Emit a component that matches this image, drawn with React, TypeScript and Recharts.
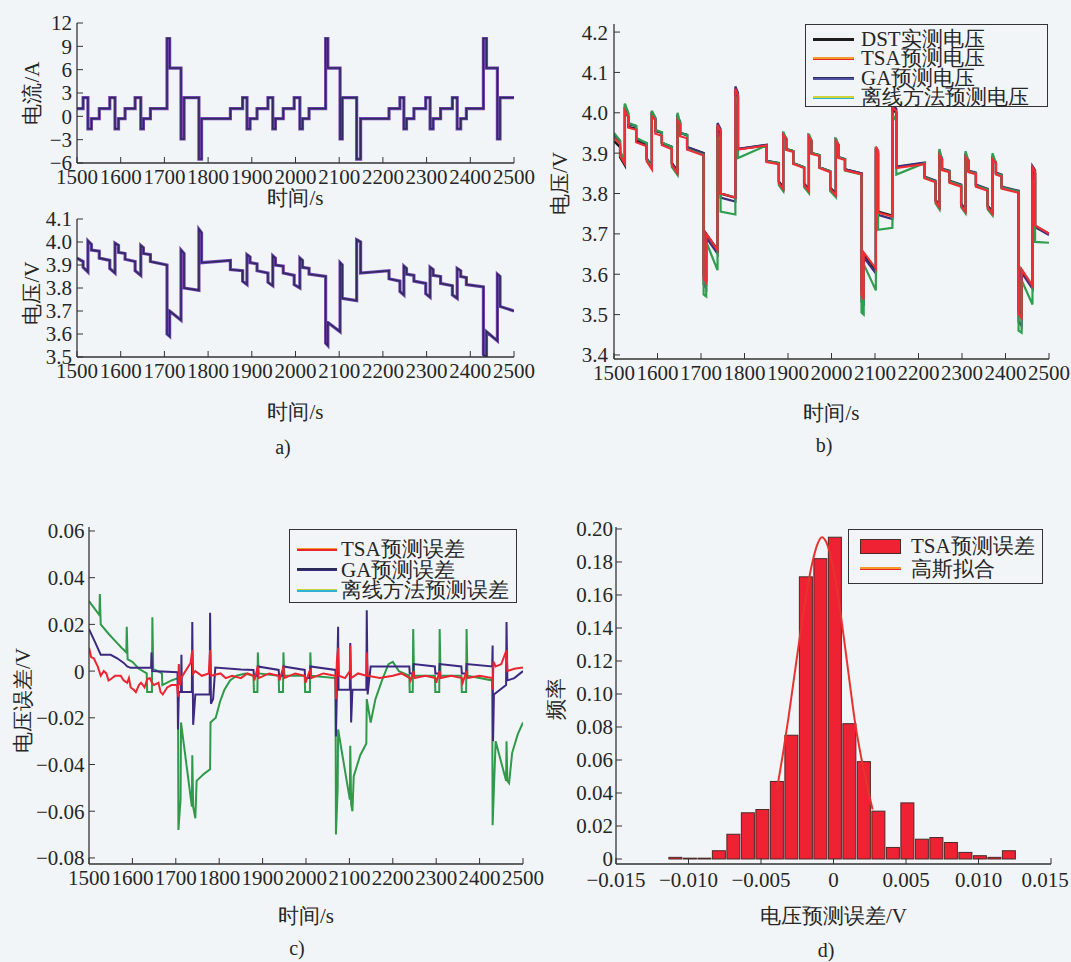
import React from 'react';
import { LineChart, ComposedChart, Line, Bar, XAxis, YAxis } from 'recharts';

const FONT = "'Liberation Serif', 'Times New Roman', serif";
const INK = '#262626';
const PAPER = '#f1f5f8';

// shared time ticks for a), b), c)
const timeTicks = [1500, 1600, 1700, 1800, 1900, 2000, 2100, 2200, 2300, 2400, 2500];

// a) DST current profile: step start times (last = end of record) and current levels
const curT = [1500, 1514, 1525, 1533, 1551, 1575, 1587, 1595, 1610, 1633, 1646, 1652, 1668, 1706, 1712, 1738,
  1745, 1779, 1785, 1851, 1879, 1889, 1896, 1912, 1937, 1948, 1954, 1972, 1997, 2010, 2016, 2031,
  2069, 2074, 2102, 2107, 2140, 2149, 2214, 2239, 2248, 2254, 2271, 2298, 2308, 2315, 2332, 2359,
  2370, 2378, 2391, 2430, 2437, 2462, 2468, 2500];
const curI = [1.0, 2.4, -1.6, -0.3, 1.0, 2.4, -1.6, -0.3, 1.0, 2.4, -1.6, -0.3, 1.0, 10.0, 6.2, -2.9,
  2.4, -5.5, -0.3, 1.0, 2.4, -1.6, -0.3, 1.0, 2.4, -1.6, -0.3, 1.0, 2.4, -1.6, -0.3, 1.0,
  10.0, 6.2, -2.9, 2.4, -5.5, -0.3, 1.0, 2.4, -1.6, -0.3, 1.0, 2.4, -1.6, -0.3, 1.0, 2.4,
  -1.6, -0.3, 1.0, 10.0, 6.2, -2.9, 2.4, 2.4];

// measured voltage at start / end of each current step
const measV0 = [3.930, 3.890, 4.005, 3.965, 3.930, 3.885, 3.995, 3.955, 3.925, 3.875, 3.985, 3.950,
  3.915, 3.600, 3.700, 3.965, 3.800, 4.055, 3.910, 3.880, 3.830, 3.945, 3.910, 3.875,
  3.825, 3.940, 3.900, 3.865, 3.815, 3.930, 3.890, 3.860, 3.560, 3.650, 3.910, 3.755,
  4.010, 3.865, 3.840, 3.785, 3.895, 3.860, 3.830, 3.775, 3.890, 3.855, 3.820, 3.770,
  3.885, 3.850, 3.815, 3.510, 3.610, 3.860, 3.720];
const measV1 = [3.915, 3.870, 3.990, 3.960, 3.920, 3.865, 3.985, 3.950, 3.915, 3.855, 3.975, 3.945,
  3.900, 3.590, 3.660, 3.950, 3.790, 4.040, 3.920, 3.875, 3.815, 3.935, 3.905, 3.865,
  3.810, 3.930, 3.895, 3.855, 3.800, 3.920, 3.885, 3.850, 3.550, 3.610, 3.900, 3.745,
  4.000, 3.875, 3.830, 3.770, 3.885, 3.855, 3.820, 3.760, 3.880, 3.850, 3.810, 3.755,
  3.875, 3.845, 3.805, 3.500, 3.570, 3.850, 3.700];

// b) deviation of each prediction from the measured voltage, per step
const tsaDev = [0.008, 0.004, 0.000, -0.002, -0.003, -0.005, -0.003, -0.007, -0.005, -0.004, -0.004, -0.008,
  -0.006, -0.010, 0.000, 0.005, 0.000, 0.004, -0.001, -0.002, -0.004, 0.000, -0.002, -0.002,
  -0.004, 0.000, -0.002, -0.002, -0.004, 0.000, -0.002, -0.002, -0.012, 0.004, 0.006, -0.002,
  0.004, -0.002, -0.002, -0.004, 0.000, -0.002, -0.003, -0.005, 0.000, -0.002, -0.003, -0.005,
  0.000, -0.003, -0.003, -0.008, 0.002, 0.005, 0.001];
const gaDev = [0.015, 0.010, 0.007, 0.007, 0.005, 0.003, 0.002, 0.001, 0.001, 0.001, 0.004, 0.000,
  0.000, -0.025, -0.009, 0.010, -0.010, 0.010, 0.001, 0.001, -0.002, 0.002, 0.000, 0.000,
  -0.002, 0.002, 0.000, 0.000, -0.003, 0.002, 0.000, 0.000, -0.028, -0.008, 0.005, -0.008,
  0.010, 0.002, 0.002, -0.001, 0.003, 0.002, 0.002, -0.001, 0.003, 0.002, 0.002, -0.001,
  0.003, 0.002, 0.002, -0.028, -0.006, 0.008, -0.003];
const offDev0 = [0.020, 0.015, 0.018, 0.010, 0.008, 0.000, 0.010, 0.003, 0.002, -0.009, 0.015, 0.000,
  -0.005, -0.050, -0.020, -0.030, -0.045, -0.015, -0.022, 0.000, -0.009, 0.008, 0.000, 0.000,
  -0.009, 0.008, 0.000, 0.000, -0.009, 0.008, 0.000, -0.003, -0.055, -0.025, -0.030, -0.045,
  -0.015, -0.018, 0.000, -0.009, 0.015, 0.000, 0.000, -0.009, 0.015, 0.000, 0.000, -0.009,
  0.015, 0.000, 0.000, -0.050, -0.025, -0.030, -0.040];
const offDev1 = [0.016, 0.012, 0.010, 0.008, 0.005, -0.002, 0.004, 0.002, 0.000, -0.009, 0.000, 0.000,
  -0.004, -0.045, -0.050, -0.010, -0.042, -0.020, -0.001, 0.000, -0.009, 0.000, 0.000, 0.000,
  -0.009, 0.000, 0.000, 0.000, -0.009, 0.000, 0.000, -0.003, -0.050, -0.050, -0.020, -0.030,
  -0.020, 0.000, 0.000, -0.009, 0.000, 0.000, 0.000, -0.009, 0.000, 0.000, 0.000, -0.009,
  0.000, 0.000, 0.000, -0.045, -0.045, -0.020, -0.022];

// c) prediction errors [time, error]
const tsaErr: [number, number][] = [[1500, 0.010], [1505, 0.006], [1511, 0.0055], [1520, 0.002], [1527, -0.002],
  [1534, 0.000], [1540, -0.001], [1545, -0.004], [1550, -0.0035], [1560, -0.002], [1573, -0.002], [1580, -0.004],
  [1588, -0.005], [1592, -0.003], [1596, -0.007], [1603, -0.008], [1608, -0.009], [1615, -0.006], [1620, -0.005],
  [1628, -0.007], [1634, -0.0035], [1640, -0.003], [1645, -0.005], [1650, -0.006], [1660, -0.005], [1665, -0.009],
  [1670, -0.010], [1680, -0.007], [1690, -0.006], [1703, -0.006], [1705, -0.011], [1707, 0.003],
  [1710, -0.006], [1712, -0.003], [1734, 0.0035], [1738, 0.009], [1740, -0.001], [1745, 0.000], [1760, -0.002],
  [1776, -0.001], [1779, 0.009], [1781, -0.002], [1803, -0.001], [1815, -0.003], [1830, -0.002], [1850, -0.003],
  [1865, -0.001], [1879, -0.002], [1881, -0.004], [1889, 0.002],
  [1891, -0.003], [1915, -0.001], [1937, -0.002], [1939, -0.004], [1948, 0.002], [1950, -0.003], [1975, -0.001],
  [1997, -0.002], [1999, -0.005], [2010, 0.001], [2012, -0.003], [2040, -0.001], [2068, -0.002], [2069, -0.012],
  [2071, 0.004], [2074, 0.010], [2076, -0.002], [2090, -0.003],
  [2101, 0.000], [2102, 0.011], [2104, -0.003], [2120, -0.001], [2139, -0.002], [2140, 0.008], [2142, -0.002],
  [2170, -0.003], [2200, -0.002], [2220, -0.001],
  [2239, -0.003], [2241, -0.004], [2248, 0.000], [2250, -0.003], [2275, -0.002], [2298, -0.003], [2300, -0.005],
  [2308, 0.000], [2310, -0.003], [2335, -0.002], [2359, -0.003], [2361, -0.005], [2370, 0.000], [2372, -0.003],
  [2400, -0.002], [2429, -0.003], [2430, -0.008],
  [2432, 0.004], [2437, 0.002], [2450, 0.003], [2462, 0.009], [2464, 0.000], [2480, 0.001], [2500, 0.0015]];
const gaErr: [number, number][] = [[1500, 0.018], [1515, 0.012], [1527, 0.007], [1550, 0.007], [1565, 0.0055],
  [1580, 0.0035], [1588, 0.002], [1596, 0.0014], [1643, 0.0014], [1644, 0.008], [1646, 0.000], [1704, -0.0005],
  [1705, -0.025], [1707, -0.009], [1712, -0.009], [1713, 0.007], [1714, -0.009], [1737, -0.009], [1738, 0.021],
  [1740, -0.023], [1745, -0.010], [1778, -0.010], [1779, 0.025], [1781, -0.014], [1786, -0.012], [1791, 0.0015],
  [1850, 0.0007], [1879, 0.0005], [1880, -0.002], [1888, -0.002], [1889, 0.002], [1937, 0.0005], [1938, -0.002],
  [1947, -0.002], [1948, 0.002], [1997, 0.0005], [1998, -0.003], [2009, -0.003], [2010, 0.002], [2068, 0.0005],
  [2069, -0.028], [2071, -0.010], [2074, 0.019], [2075, -0.008], [2101, -0.008], [2102, 0.012], [2104, -0.022],
  [2107, -0.008], [2139, -0.008], [2140, 0.026], [2142, -0.010], [2149, 0.002], [2238, 0.002], [2239, -0.001],
  [2247, -0.001], [2248, 0.003], [2297, 0.002], [2298, -0.001], [2307, -0.001], [2308, 0.003], [2358, 0.002],
  [2359, -0.001], [2369, -0.001], [2370, 0.003], [2429, 0.002], [2430, 0.011], [2431, -0.030], [2433, -0.010],
  [2461, -0.006], [2462, 0.021], [2464, -0.004], [2480, -0.003], [2500, 0.000]];
const offErr: [number, number][] = [[1500, 0.030], [1512, 0.027], [1524, 0.024], [1525, 0.033], [1527, 0.020],
  [1545, 0.016], [1565, 0.012], [1575, 0.010], [1586, 0.008], [1587, 0.019], [1589, 0.005], [1600, 0.004],
  [1615, 0.001], [1633, -0.001], [1634, -0.009], [1645, -0.009], [1646, 0.023], [1648, 0.001], [1668, -0.001],
  [1669, -0.006], [1690, -0.004], [1705, -0.003], [1706, -0.068], [1711, -0.055], [1712, -0.022], [1737, -0.058],
  [1738, -0.036], [1740, -0.058], [1745, -0.063], [1748, -0.047], [1765, -0.044], [1779, -0.042], [1780, -0.022],
  [1792, -0.020], [1802, -0.013], [1812, -0.008], [1825, -0.004], [1840, -0.002], [1860, -0.001], [1879, -0.002],
  [1880, -0.009], [1888, -0.009], [1889, 0.008], [1891, -0.001], [1937, -0.002], [1938, -0.009], [1947, -0.009],
  [1948, 0.008], [1950, -0.002], [1997, -0.002], [1998, -0.009], [2009, -0.009], [2010, 0.008], [2012, -0.002],
  [2068, -0.003], [2069, -0.070], [2073, -0.050], [2074, -0.025], [2101, -0.055], [2102, -0.032], [2104, -0.057],
  [2107, -0.060], [2110, -0.045], [2125, -0.036], [2139, -0.031], [2140, -0.012], [2149, -0.022], [2160, -0.012],
  [2175, -0.004], [2190, 0.003], [2200, 0.004], [2214, 0.000], [2238, -0.002], [2239, -0.009], [2246, -0.009],
  [2247, 0.018], [2249, -0.002], [2297, -0.002], [2298, -0.009], [2307, -0.009], [2308, 0.018], [2310, -0.002],
  [2358, -0.002], [2359, -0.009], [2369, -0.009], [2370, 0.018], [2372, -0.002], [2429, -0.004], [2430, -0.066],
  [2434, -0.045], [2437, -0.030], [2461, -0.047], [2462, -0.030], [2464, -0.047], [2468, -0.048], [2475, -0.035],
  [2488, -0.027], [2500, -0.022]];

// d) histogram of TSA error (bin centres, relative frequency) and gaussian fit
const binX = [-0.0109, -0.0099, -0.0089, -0.0079, -0.0069, -0.0059, -0.0049, -0.0039, -0.0029, -0.0019, -0.0009,
  0.0001, 0.0011, 0.0021, 0.0031, 0.0041, 0.0051, 0.0061, 0.0071, 0.0081, 0.0091, 0.0101, 0.0111, 0.0121];
const binH = [0.001, 0.0005, 0.0005, 0.005, 0.015, 0.028, 0.030, 0.047, 0.075, 0.171, 0.182,
  0.195, 0.082, 0.059, 0.029, 0.007, 0.034, 0.012, 0.013, 0.010, 0.004, 0.002, 0.001, 0.005];
const gaussX = [-0.0039, -0.0035, -0.0031, -0.0027, -0.0023, -0.0019, -0.0015, -0.0011, -0.0008, -0.0005,
  -0.0001, 0.0003, 0.0007, 0.0011, 0.0015, 0.0019, 0.0023, 0.0027];
const gaussY = [0.042, 0.063, 0.086, 0.111, 0.136, 0.159, 0.178, 0.191, 0.195, 0.192,
  0.180, 0.160, 0.135, 0.108, 0.082, 0.062, 0.045, 0.030];

const curRows = curT.map((t, k) => ({ t, i: curI[k] }));
const voltRows: { t: number; dst: number; tsa: number; ga: number; off: number }[] = [];
for (let k = 0; k < curT.length - 1; k++) {
  voltRows.push({ t: curT[k], dst: measV0[k], tsa: measV0[k] + tsaDev[k], ga: measV0[k] + gaDev[k], off: measV0[k] + offDev0[k] });
  voltRows.push({ t: curT[k + 1], dst: measV1[k], tsa: measV1[k] + tsaDev[k], ga: measV1[k] + gaDev[k], off: measV1[k] + offDev1[k] });
}
const toRows = (a: [number, number][]) => a.map(([t, e]) => ({ t, e }));
const histRows = binX.map((x, k) => ({ x, h: binH[k] }));
const gaussRows = gaussX.map((x, k) => ({ x, g: gaussY[k] }));

const minus = (s: string) => s.replace('-', '\u2212');
const frameLine = { stroke: '#333', strokeWidth: 1.3 };
const tickFont = { fontSize: 21, fill: INK, fontFamily: FONT };
const titleProps = { fontSize: 21, fill: INK, fontFamily: FONT };

const frameAxes = () => [
  <XAxis key="ft" xAxisId="ft" orientation="top" type="number" domain={[0, 1]} height={0} tick={false} tickLine={false} axisLine={frameLine} />,
  <YAxis key="fr" yAxisId="fr" orientation="right" type="number" domain={[0, 1]} width={0} tick={false} tickLine={false} axisLine={frameLine} />,
];

const timeAxis = (height: number) => (
  <XAxis type="number" dataKey="t" domain={[1500, 2500]} ticks={timeTicks} interval={0} allowDataOverflow
    tickSize={-6} tickMargin={12} tick={tickFont} tickLine={{ stroke: '#333' }} axisLine={frameLine} height={height}
    label={{ value: '时间/s', position: 'insideBottom', offset: 0, ...titleProps }} />
);

// histogram bar: fixed 13px width, centred on the bin position given by the x scale
const HistBar = (p: any) => {
  const cx = p.x + p.width / 2;
  return <rect x={cx - 6.5} y={p.y} width={13} height={Math.max(p.height, 0)} fill="#ee2233" stroke="#4a2a2a" strokeWidth={1} />;
};

// last tick label of d) pulled left a little so it stays on the page
const ErrTick = (p: any) => {
  const v = p.payload.value as number;
  const txt = v === 0 ? '0' : minus(v.toFixed(3));
  const dx = v >= 0.015 ? -6 : 0;
  return (
    <text x={p.x + dx} y={p.y} dy="0.71em" textAnchor="middle" fontSize={21} fill={INK} fontFamily={FONT}>{txt}</text>
  );
};

type Item = { label: string; a: string; b?: string; rect?: boolean };
function LegendBox(p: { left: number; top: number; width: number; height: number; padTop: number; padLeft: number;
  rowH: number; sampleW: number; gap: number; items: Item[] }) {
  return (
    <div style={{ position: 'absolute', left: p.left, top: p.top, width: p.width, height: p.height, boxSizing: 'border-box',
      border: '1.3px solid #333', background: PAPER, paddingTop: p.padTop, paddingLeft: p.padLeft, fontFamily: FONT }}>
      {p.items.map((it) => (
        <div key={it.label} style={{ display: 'flex', alignItems: 'center', height: p.rowH }}>
          {it.rect ? (
            <div style={{ width: p.sampleW, height: 15, background: it.a, border: '1px solid #4a2a2a', boxSizing: 'border-box' }} />
          ) : (
            <div style={{ width: p.sampleW }}>
              <div style={{ height: 1.6, background: it.a }} />
              <div style={{ height: 1.6, background: it.b ?? it.a }} />
            </div>
          )}
          <span style={{ marginLeft: p.gap, fontSize: 21, lineHeight: `${p.rowH}px`, whiteSpace: 'nowrap', color: INK }}>{it.label}</span>
        </div>
      ))}
    </div>
  );
}

const Caption = ({ x, y, text }: { x: number; y: number; text: string }) => (
  <div style={{ position: 'absolute', left: x - 20, top: y - 12, width: 40, textAlign: 'center', fontSize: 20,
    lineHeight: '24px', fontFamily: FONT, color: INK }}>{text}</div>
);

const box = (left: number, top: number, width: number, height: number): React.CSSProperties =>
  ({ position: 'absolute', left, top, width, height, fontFamily: FONT });

export default function App() {
  return (
    <div style={{ position: 'absolute', left: 0, top: 0, width: 1071, height: 962, background: PAPER, overflow: 'hidden', fontFamily: FONT }}>
      <style>{`.recharts-wrapper svg text, .recharts-wrapper svg tspan { font-family: 'Liberation Serif', 'Times New Roman', serif !important; }`}</style>

      {/* a) current */}
      <div style={box(0, 0, 540, 210)}>
        <LineChart width={540} height={210} data={curRows} margin={{ top: 23, right: 26, left: 0, bottom: 5 }}>
          {frameAxes()}
          {timeAxis(42)}
          <YAxis type="number" domain={[-6, 12]} ticks={[-6, -3, 0, 3, 6, 9, 12]} interval={0} width={77}
            tickSize={-6} tickMargin={11} tick={tickFont} tickLine={{ stroke: '#333' }} axisLine={frameLine}
            tickFormatter={(v: number) => minus(String(v))}
            label={{ value: '电流/A', angle: -90, position: 'center', dx: -7, ...titleProps }} />
          <Line type="stepAfter" dataKey="i" stroke="#7446b0" strokeWidth={3.2} dot={false} activeDot={false} isAnimationActive={false} />
          <Line type="stepAfter" dataKey="i" stroke="#2c2a5c" strokeWidth={1.5} dot={false} activeDot={false} isAnimationActive={false} />
        </LineChart>
      </div>

      {/* a) voltage */}
      <div style={box(0, 205, 540, 220)}>
        <LineChart width={540} height={220} data={voltRows} margin={{ top: 14, right: 26, left: 0, bottom: 6 }}>
          {frameAxes()}
          {timeAxis(62)}
          <YAxis type="number" domain={[3.5, 4.1]} ticks={[3.5, 3.6, 3.7, 3.8, 3.9, 4.0, 4.1]} interval={0} width={77}
            allowDataOverflow tickSize={-6} tickMargin={11} tick={tickFont} tickLine={{ stroke: '#333' }} axisLine={frameLine}
            tickFormatter={(v: number) => v.toFixed(1)}
            label={{ value: '电压/V', angle: -90, position: 'center', dx: -7, dy: 5, ...titleProps }} />
          <Line type="linear" dataKey="dst" stroke="#7446b0" strokeWidth={3.2} dot={false} activeDot={false} isAnimationActive={false} />
          <Line type="linear" dataKey="dst" stroke="#2c2a5c" strokeWidth={1.5} dot={false} activeDot={false} isAnimationActive={false} />
        </LineChart>
      </div>
      <Caption x={283} y={447} text="a)" />

      {/* b) voltage prediction */}
      <div style={box(540, 0, 531, 430)}>
        <LineChart width={531} height={430} data={voltRows} margin={{ top: 24, right: 22, left: 0, bottom: 10 }}>
          {frameAxes()}
          {timeAxis(61)}
          <YAxis type="number" domain={[3.39, 4.22]} ticks={[3.4, 3.5, 3.6, 3.7, 3.8, 3.9, 4.0, 4.1, 4.2]} interval={0} width={74}
            allowDataOverflow tickSize={-6} tickMargin={12} tick={tickFont} tickLine={{ stroke: '#333' }} axisLine={frameLine}
            tickFormatter={(v: number) => v.toFixed(1)}
            label={{ value: '电压/V', angle: -90, position: 'center', dx: -17, dy: -8, ...titleProps }} />
          <Line type="linear" dataKey="dst" stroke="#1d1d1d" strokeWidth={2.4} dot={false} activeDot={false} isAnimationActive={false} />
          <Line type="linear" dataKey="ga" stroke="#3a3278" strokeWidth={2.2} dot={false} activeDot={false} isAnimationActive={false} />
          <Line type="linear" dataKey="off" stroke="#2f9e4e" strokeWidth={2.2} dot={false} activeDot={false} isAnimationActive={false} />
          <Line type="linear" dataKey="tsa" stroke="#ee2f37" strokeWidth={2.2} dot={false} activeDot={false} isAnimationActive={false} />
        </LineChart>
      </div>
      <LegendBox left={805} top={24} width={243} height={83} padTop={4.5} padLeft={7} rowH={19.5} sampleW={41} gap={7}
        items={[
          { label: 'DST实测电压', a: '#1d1d1d' },
          { label: 'TSA预测电压', a: '#f29a2a', b: '#e8242c' },
          { label: 'GA预测电压', a: '#2b2b5a', b: '#4f52a3' },
          { label: '离线方法预测电压', a: '#cfd23a', b: '#2fb3d3' },
        ]} />
      <Caption x={824} y={445} text="b)" />

      {/* c) prediction error */}
      <div style={box(0, 500, 560, 440)}>
        <LineChart width={560} height={440} margin={{ top: 27, right: 37, left: 0, bottom: 17 }}>
          {frameAxes()}
          {timeAxis(59)}
          <YAxis type="number" domain={[-0.0826, 0.0617]} ticks={[-0.08, -0.06, -0.04, -0.02, 0, 0.02, 0.04, 0.06]} interval={0}
            width={89} allowDataOverflow tickSize={-6} tickMargin={10.5} tick={tickFont} tickLine={{ stroke: '#333' }} axisLine={frameLine}
            tickFormatter={(v: number) => (v === 0 ? '0' : minus(v.toFixed(2)))}
            label={{ value: '电压误差/V', angle: -90, position: 'center', dx: -22, dy: 5, ...titleProps }} />
          <Line data={toRows(offErr)} type="linear" dataKey="e" stroke="#2f9a4a" strokeWidth={2} dot={false} activeDot={false} isAnimationActive={false} />
          <Line data={toRows(gaErr)} type="linear" dataKey="e" stroke="#3d2a80" strokeWidth={2} dot={false} activeDot={false} isAnimationActive={false} />
          <Line data={toRows(tsaErr)} type="linear" dataKey="e" stroke="#ec2530" strokeWidth={2} dot={false} activeDot={false} isAnimationActive={false} />
        </LineChart>
      </div>
      <LegendBox left={289} top={529} width={228} height={74} padTop={9} padLeft={7} rowH={20.5} sampleW={40} gap={4}
        items={[
          { label: 'TSA预测误差', a: '#f29a2a', b: '#e8242c' },
          { label: 'GA预测误差', a: '#2b2b5a', b: '#3d2a80' },
          { label: '离线方法预测误差', a: '#cfd23a', b: '#2fb3d3' },
        ]} />
      <Caption x={297} y={948} text="c)" />

      {/* d) error histogram */}
      <div style={box(540, 500, 531, 440)}>
        <ComposedChart width={531} height={440} data={histRows} margin={{ top: 27, right: 20, left: 0, bottom: 17 }}>
          {frameAxes()}
          <XAxis type="number" dataKey="x" domain={[-0.015, 0.015]} ticks={[-0.015, -0.01, -0.005, 0, 0.005, 0.01, 0.015]}
            interval={0} allowDataOverflow height={59} tickSize={-6} tickMargin={14} tick={<ErrTick />} tickLine={{ stroke: '#333' }}
            axisLine={frameLine}
            label={{ value: '电压预测误差/V', position: 'insideBottom', offset: 0, ...titleProps }} />
          <YAxis type="number" domain={[-0.00303, 0.2012]} ticks={[0, 0.02, 0.04, 0.06, 0.08, 0.1, 0.12, 0.14, 0.16, 0.18, 0.2]}
            interval={0} width={76} allowDataOverflow tickSize={-6} tickMargin={9} tick={tickFont} tickLine={{ stroke: '#333' }}
            axisLine={frameLine} tickFormatter={(v: number) => (v === 0 ? '0' : v.toFixed(2))}
            label={{ value: '频率', angle: -90, position: 'center', dx: -22, dy: 3, ...titleProps }} />
          <Bar dataKey="h" barSize={13} shape={HistBar} isAnimationActive={false} />
          <Line data={gaussRows} type="monotone" dataKey="g" stroke="#e8322e" strokeWidth={2} dot={false} activeDot={false} isAnimationActive={false} />
        </ComposedChart>
      </div>
      <LegendBox left={848} top={529} width={195} height={55} padTop={5} padLeft={11} rowH={22.5} sampleW={41} gap={10}
        items={[
          { label: 'TSA预测误差', a: '#ee2233', rect: true },
          { label: '高斯拟合', a: '#f29a2a', b: '#e8242c' },
        ]} />
      <Caption x={826} y={950} text="d)" />
    </div>
  );
}
